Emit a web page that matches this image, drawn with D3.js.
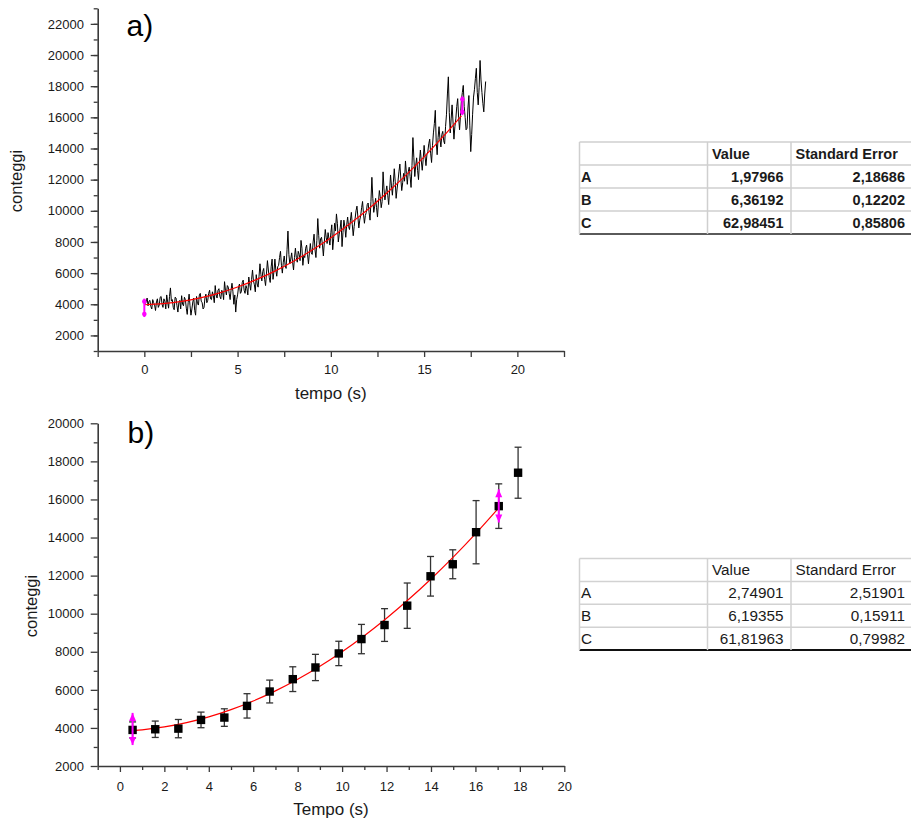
<!DOCTYPE html>
<html>
<head>
<meta charset="utf-8">
<script src="https://cdn.jsdelivr.net/npm/d3@7"></script>
<style>
body { margin: 0; background: #fff; }
svg { display: block; font-family: "Liberation Sans", Arial, sans-serif; }
</style>
</head>
<body>
<svg id="chart" width="911" height="823"></svg>
<script>
// ---- panel a) : raw counts, one reading every 0.05 s starting at t = 0
var rawStep = 0.05;
var rawCounts = [
  4300, 4050, 4150, 4400, 3900, 4200, 4250, 3850, 3700, 4300, 4100, 3950, 3600, 4150, 4350, 3800, 3950, 4450, 4500, 4000,
  3800, 4350, 4200, 3700, 4600, 4150, 3750, 4500, 5050, 4200, 4300, 3800, 3650, 4450, 4400, 3900, 3500, 4100, 4250, 3700,
  4550, 4000, 3900, 4450, 4300, 3750, 3350, 4100, 4650, 3900, 3300, 3700, 4150, 4400, 3600, 3300, 4500, 4050, 3950, 4600,
  4700, 4200, 4100, 3700, 3800, 4400, 4650, 4100, 4250, 4700, 4900, 4350, 4300, 4800, 4550, 4100, 5200, 4600, 4400, 4900,
  5000, 4500, 4350, 4900, 4800, 4300, 5450, 4900, 4600, 5200, 5100, 4700, 4300, 4900, 5350, 4800, 4000, 4600, 3500, 4300,
  4600, 5100, 5300, 4700, 4800, 5400, 5550, 4900, 4700, 5200, 5000, 4600, 5750, 5300, 4900, 5600, 6200, 5500, 5250, 4800,
  5900, 5300, 5100, 5800, 6600, 5900, 5500, 6100, 6300, 5600, 5200, 6000, 6800, 6200, 5700, 5400, 6400, 6900, 5600, 6100,
  6900, 6200, 5800, 6400, 6500, 7000, 7400, 6500, 6000, 6700, 7100, 6500, 6300, 7500, 8700, 7200, 6600, 6900, 7300, 6700,
  6200, 7000, 7600, 7000, 6700, 7400, 7200, 6800, 8100, 7600, 6500, 7100, 7000, 7600, 7800, 7200, 6600, 7300, 7900, 7300,
  7200, 8000, 8500, 7500, 7000, 8100, 9500, 8400, 7600, 8200, 8300, 7800, 7100, 8000, 8800, 8300, 7900, 8600, 8200, 7800,
  8600, 9100, 7500, 8200, 9200, 8700, 9800, 9200, 8000, 8500, 8900, 9400, 7700, 8600, 9400, 9000, 8300, 9100, 9600, 9000,
  8800, 9400, 9900, 9100, 8400, 9000, 9500, 10000, 10300, 9600, 8900, 9400, 9700, 10200, 10600, 9800, 9200, 9700, 9900, 10400,
  10500, 9900, 9400, 10600, 12150, 10800, 9900, 10300, 10800, 10200, 9600, 10500, 11300, 10900, 10200, 10600, 12500, 11400, 10700, 11200,
  11600, 11000, 10400, 11300, 12300, 11600, 11000, 11800, 12700, 11900, 10800, 11400, 11900, 12500, 13000, 12100, 11300, 11800, 12400, 11900,
  13200, 12400, 11700, 12500, 12800, 12200, 11500, 12900, 14700, 13400, 12200, 12900, 13400, 12600, 12000, 13100, 13900, 13200, 12600, 13300,
  14200, 13500, 12900, 13600, 13800, 14300, 14600, 13700, 13100, 14200, 15000, 15600, 16450, 14400, 13600, 14700, 15400, 14600, 14100, 14900,
  15100, 14500, 14300, 15400, 16200, 17500, 18600, 16300, 15000, 15900, 16800, 15700, 14600, 15400, 15900, 16700, 17200, 16000, 15200, 16100,
  17100, 17600, 18050, 16700, 16000, 15200, 15300, 16600, 17400, 15500, 13800, 14900, 16200, 17300, 17800, 18500, 19150, 17600, 16800, 17900,
  19650, 18400, 17600, 16900, 16350, 17500, 18300
];

// fitted curve of panel a)
var fitTimeA  = [0, 1, 2, 3, 4, 5, 6, 7, 8, 9, 10, 11, 12, 13, 14, 15, 16, 17];
var fitCountA = [3970, 4040, 4180, 4410, 4720, 5110, 5580, 6130, 6760, 7480,
                 8270, 9150, 10100, 11140, 12260, 13460, 14740, 16100];

// magenta data-reader markers of panel a)
var markTimeA = [0, 17.05];
var markHighA = [4360, 17350];
var markLowA  = [3180, 16140];
var markDotHighA = [4170, 17160];
var markDotLowA  = [3370, 16350];

var tableRows  = ["A", "B", "C"];
var tableHead  = ["Value", "Standard Error"];
var tableValA  = ["1,97966", "6,36192", "62,98451"];
var tableErrA  = ["2,18686", "0,12202", "0,85806"];

// ---- panel b) : binned counts with error bars
var timeB  = [0.57, 1.59, 2.63, 3.65, 4.70, 5.72, 6.74, 7.78, 8.80, 9.85,
              10.87, 11.91, 12.93, 13.98, 14.98, 16.03, 17.05, 17.92];
var countB = [3895, 3930, 3963, 4421, 4544, 5158, 5912, 6561, 7175, 7912,
              8667, 9404, 10421, 11965, 12596, 14280, 15649, 17404];
var errB   = [420, 430, 480, 410, 460, 640, 600, 650, 690, 640,
              770, 860, 1190, 1040, 760, 1660, 1170, 1340];

var fitTimeB  = [0.6, 1, 2, 3, 4, 5, 6, 7, 8, 9, 10, 11, 12, 13, 14, 15, 16, 17];
var fitCountB = [3863, 3902, 4051, 4277, 4579, 4958, 5414, 5947, 6557, 7243,
                 8005, 8846, 9762, 10755, 11825, 12971, 14195, 15495];

var markTimeB = [0.57, 17.05];
var markHighB = [4790, 16530];
var markLowB  = [3100, 14790];

var tableValB = ["2,74901", "6,19355", "61,81963"];
var tableErrB = ["2,51901", "0,15911", "0,79982"];

// axis ticks
var yMajorA = d3.range(2000, 22001, 2000);
var yMinorA = d3.range(1000, 23001, 1000);
var xMajorA = [0, 5, 10, 15, 20];
var xMinorA = [-2.5, 2.5, 7.5, 12.5, 17.5, 22.5];
var yMajorB = d3.range(2000, 20001, 2000);
var yMinorB = d3.range(3000, 20000, 2000);
var xMajorB = d3.range(0, 21, 2);
var xMinorB = d3.range(-1, 20, 2);

var svg = d3.select("#chart");
var axisColor = "#3a3a3a";
var textColor = "#1a1a1a";

//draws an axis with long labelled ticks and short unlabelled ones
function drawAxis(g, axisFn, scale, major, minor, majorLen, minorLen, pad) {
	g.call(axisFn(scale).tickValues(major).tickFormat(d3.format("d"))
		.tickSize(majorLen).tickSizeOuter(0).tickPadding(pad));
	g.select(".domain").attr("stroke", axisColor).attr("stroke-width", 1.6);
	g.selectAll(".tick line").attr("stroke", axisColor).attr("stroke-width", 1.3);
	g.selectAll(".tick text").attr("fill", textColor).attr("font-size", 13)
		.attr("font-family", "Liberation Sans, Arial, sans-serif");
	var gm = g.append("g");
	gm.call(axisFn(scale).tickValues(minor).tickSize(minorLen).tickFormat(""));
	gm.select(".domain").remove();
	gm.selectAll(".tick line").attr("stroke", axisColor).attr("stroke-width", 1.3);
}

//magenta vertical marker
function drawMarker(g, x, y, t, hi, lo, style) {
	for (var i = 0; i < t.length; i++) {
		var px = x(t[i]);
		g.append("line")
			.attr("x1", px).attr("x2", px)
			.attr("y1", y(hi[i])).attr("y2", y(lo[i]))
			.attr("stroke", "#ff00ff").attr("stroke-width", 2);
		if (style == "arrow") {
			var yt = y(hi[i]), yb = y(lo[i]);
			g.append("path")
				.attr("d", "M" + px + "," + yt + "L" + (px - 3.5) + "," + (yt + 8) + "L" + (px + 3.5) + "," + (yt + 8) + "Z")
				.attr("fill", "#ff00ff");
			g.append("path")
				.attr("d", "M" + px + "," + yb + "L" + (px - 3.5) + "," + (yb - 8) + "L" + (px + 3.5) + "," + (yb - 8) + "Z")
				.attr("fill", "#ff00ff");
		}
	}
}

//parameter table on the right
function drawTable(top, rowH, vals, errs, bold, lineColor, bottomColor) {
	var cols = [579.5, 707.5, 791, 911];
	var g = svg.append("g");
	var weight = bold ? "bold" : "normal";
	var fs = bold ? 14.5 : 15.3;
	for (var r = 0; r < 4; r++) {
		g.append("line")
			.attr("x1", cols[0]).attr("x2", cols[3])
			.attr("y1", top + r * rowH).attr("y2", top + r * rowH)
			.attr("stroke", lineColor).attr("stroke-width", 1.5);
	}
	g.append("line")
		.attr("x1", cols[0]).attr("x2", cols[3])
		.attr("y1", top + 4 * rowH).attr("y2", top + 4 * rowH)
		.attr("stroke", bottomColor).attr("stroke-width", 2);
	for (var c = 0; c < 3; c++) {
		g.append("line")
			.attr("x1", cols[c]).attr("x2", cols[c])
			.attr("y1", top).attr("y2", top + 4 * rowH)
			.attr("stroke", lineColor).attr("stroke-width", 1.5);
	}
	var txt = function (x, y, s, anchor) {
		g.append("text")
			.attr("x", x).attr("y", y).attr("dy", "0.36em")
			.attr("text-anchor", anchor)
			.attr("font-size", fs).attr("font-weight", weight)
			.attr("fill", textColor)
			.text(s);
	};
	txt(cols[1] + 4.5, top + rowH / 2, tableHead[0], "start");
	txt(cols[2] + 4.5, top + rowH / 2, tableHead[1], "start");
	for (var i = 0; i < tableRows.length; i++) {
		var cy = top + (i + 1.5) * rowH;
		txt(cols[0] + 1.5, cy, tableRows[i], "start");
		txt(cols[2] - 7.5, cy, vals[i], "end");
		txt(cols[3] - 6, cy, errs[i], "end");
	}
}

// ================= panel a)
var xA = d3.scaleLinear().domain([-2.5, 22.5]).range([97.7, 564]);
var yA = d3.scaleLinear().domain([1000, 23000]).range([351, 8.3]);

var gA = svg.append("g");

var rawLine = d3.line()
	.x(function (d, i) { return xA(i * rawStep); })
	.y(function (d) { return yA(d); });

gA.append("path")
	.datum(rawCounts)
	.attr("d", rawLine)
	.attr("fill", "none")
	.attr("stroke", "#000")
	.attr("stroke-width", 1);

gA.append("path")
	.datum(fitTimeA)
	.attr("d", d3.line().curve(d3.curveMonotoneX)
		.x(function (d) { return xA(d); })
		.y(function (d, i) { return yA(fitCountA[i]); }))
	.attr("fill", "none")
	.attr("stroke", "#ff0000")
	.attr("stroke-width", 1.2);

drawMarker(gA, xA, yA, markTimeA, markHighA, markLowA, "dot");
for (var k = 0; k < markTimeA.length; k++) {
	[markDotHighA[k], markDotLowA[k]].forEach(function (v) {
		gA.append("circle")
			.attr("cx", xA(markTimeA[k])).attr("cy", yA(v))
			.attr("r", 2.3).attr("fill", "#ff00ff");
	});
}

drawAxis(gA.append("g").attr("transform", "translate(0,351)"), d3.axisBottom, xA, xMajorA, xMinorA, 6, 6, 8);
drawAxis(gA.append("g").attr("transform", "translate(97.7,0)"), d3.axisLeft, yA, yMajorA, yMinorA, 7, 4, 6.7);

gA.append("text")
	.attr("x", xA(10)).attr("y", 399)
	.attr("text-anchor", "middle").attr("font-size", 17).attr("fill", textColor)
	.text("tempo (s)");
gA.append("text")
	.attr("transform", "translate(21.5,181) rotate(-90)")
	.attr("text-anchor", "middle").attr("font-size", 16.5).attr("fill", textColor)
	.text("conteggi");
gA.append("text")
	.attr("x", 126.5).attr("y", 36)
	.attr("font-size", 30).attr("fill", "#000")
	.text("a)");

drawTable(142, 23, tableValA, tableErrA, true, "#cfcfcf", "#5a5a5a");

// ================= panel b)
var xB = d3.scaleLinear().domain([-1, 20]).range([97.7, 564.3]);
var yB = d3.scaleLinear().domain([2000, 20000]).range([766, 423.3]);

var gB = svg.append("g");

// error bars
var eb = gB.selectAll(".eb").data(timeB).enter().append("g").attr("class", "eb");
eb.append("line")
	.attr("x1", function (d) { return xB(d); }).attr("x2", function (d) { return xB(d); })
	.attr("y1", function (d, i) { return yB(countB[i] + errB[i]); })
	.attr("y2", function (d, i) { return yB(countB[i] - errB[i]); })
	.attr("stroke", "#333").attr("stroke-width", 1.3);
[1, -1].forEach(function (s) {
	eb.append("line")
		.attr("x1", function (d) { return xB(d) - 3.5; }).attr("x2", function (d) { return xB(d) + 3.5; })
		.attr("y1", function (d, i) { return yB(countB[i] + s * errB[i]); })
		.attr("y2", function (d, i) { return yB(countB[i] + s * errB[i]); })
		.attr("stroke", "#333").attr("stroke-width", 1.3);
});

gB.append("path")
	.datum(fitTimeB)
	.attr("d", d3.line().curve(d3.curveMonotoneX)
		.x(function (d) { return xB(d); })
		.y(function (d, i) { return yB(fitCountB[i]); }))
	.attr("fill", "none")
	.attr("stroke", "#ff0000")
	.attr("stroke-width", 1.2);

gB.selectAll(".sq").data(timeB).enter().append("rect")
	.attr("class", "sq")
	.attr("x", function (d) { return xB(d) - 4.2; })
	.attr("y", function (d, i) { return yB(countB[i]) - 4.2; })
	.attr("width", 8.4).attr("height", 8.4)
	.attr("fill", "#000");

drawMarker(gB, xB, yB, markTimeB, markHighB, markLowB, "arrow");

drawAxis(gB.append("g").attr("transform", "translate(0,766)"), d3.axisBottom, xB, xMajorB, xMinorB, 6, 4, 9.7);
drawAxis(gB.append("g").attr("transform", "translate(97.7,0)"), d3.axisLeft, yB, yMajorB, yMinorB, 7, 4, 6.7);

gB.append("text")
	.attr("x", xB(9.5)).attr("y", 814.7)
	.attr("text-anchor", "middle").attr("font-size", 17).attr("fill", textColor)
	.text("Tempo (s)");
gB.append("text")
	.attr("transform", "translate(36.5,606) rotate(-90)")
	.attr("text-anchor", "middle").attr("font-size", 16.5).attr("fill", textColor)
	.text("conteggi");
gB.append("text")
	.attr("x", 127.5).attr("y", 443)
	.attr("font-size", 30).attr("fill", "#000")
	.text("b)");

drawTable(558.5, 22.9, tableValB, tableErrB, false, "#d2d2d2", "#111");
</script>
</body>
</html>
